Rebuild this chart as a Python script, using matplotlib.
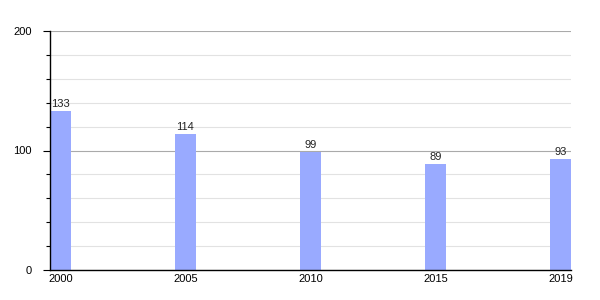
import matplotlib
matplotlib.use("Agg")
import matplotlib.pyplot as plt
from matplotlib.ticker import MultipleLocator

# ── Data ──────────────────────────────────────────────────────────────────────
years  = ["2000", "2005", "2010", "2015", "2019"]
values = [133, 114, 99, 89, 93]

BAR_COLOR = "#99aaff"
BAR_W     = 0.166

plt.rcParams["font.family"] = ["Liberation Sans", "DejaVu Sans"]

fig = plt.figure(figsize=(6, 3), dpi=100)
ax = fig.add_axes([50 / 600, 30 / 300, 521 / 600, 239 / 300])

pos = list(range(len(years)))
ax.bar(pos, values, width=BAR_W, align="edge", color=BAR_COLOR, zorder=3)

for x, v in zip(pos, values):
    ax.text(x + BAR_W / 2, v + 1.5, str(v), ha="center", va="bottom",
            fontsize=8, color="#222222", zorder=4)

ax.set_xlim(0, len(years) - 1 + BAR_W)
ax.set_ylim(0, 200)

ax.set_xticks([p + BAR_W / 2 for p in pos])
ax.set_xticklabels(years, fontsize=8)
ax.tick_params(axis="x", length=0, pad=3)

ax.yaxis.set_major_locator(MultipleLocator(100))
ax.yaxis.set_minor_locator(MultipleLocator(20))
ax.tick_params(axis="y", which="major", length=5, width=0.8, labelsize=8, pad=8)
ax.tick_params(axis="y", which="minor", length=3, width=0.8)

ax.grid(axis="y", which="minor", color="#e2e2e2", linewidth=0.8, zorder=0)
ax.grid(axis="y", which="major", color="#aaaaaa", linewidth=0.8, zorder=1)

for side in ("top", "right"):
    ax.spines[side].set_visible(False)
for side in ("left", "bottom"):
    ax.spines[side].set_color("black")
    ax.spines[side].set_linewidth(1.0)
    ax.spines[side].set_zorder(5)

fig.savefig("out.png", dpi=100)
